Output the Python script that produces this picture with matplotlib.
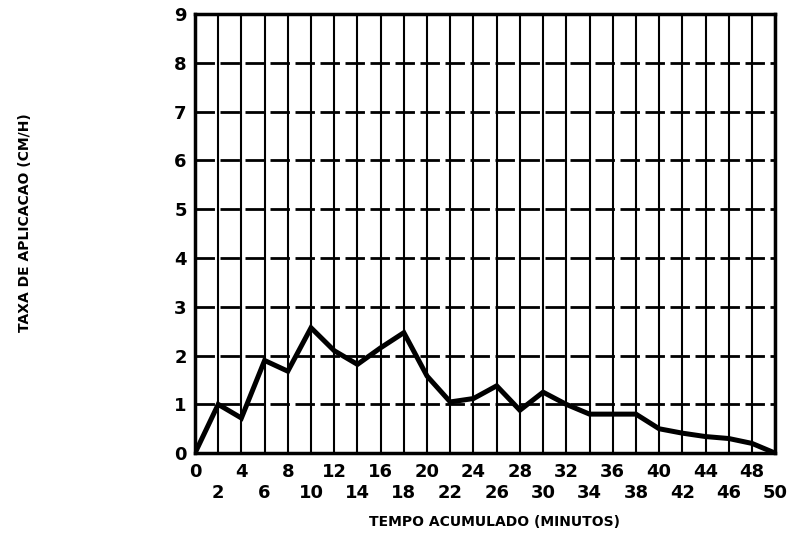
import numpy as np
import matplotlib
matplotlib.use("Agg")
import matplotlib.pyplot as plt
from matplotlib.ticker import MultipleLocator, FixedLocator

# dados
tempo = [0, 2, 4, 6, 8, 10, 12, 14, 16, 18, 20, 22, 24, 26, 28, 30, 32, 34, 36, 38, 40, 42, 44, 46, 48, 50]
taxa = [0.0, 1.0, 0.72, 1.9, 1.68, 2.57, 2.1, 1.82, 2.16, 2.47, 1.58, 1.05, 1.12, 1.38, 0.88, 1.25, 1.0, 0.8, 0.8, 0.8, 0.5, 0.41, 0.34, 0.3, 0.2, 0.0]

ticks_cima = [0, 4, 8, 12, 16, 20, 24, 28, 32, 36, 40, 44, 48]
ticks_baixo = [2, 6, 10, 14, 18, 22, 26, 30, 34, 38, 42, 46, 50]

fig = plt.figure(figsize=(7.91, 5.44), dpi=100)
ax = fig.add_axes([0.2465, 0.167, 0.7335, 0.807])

ax.plot(tempo, taxa, color='black', linewidth=3.6, solid_joinstyle='miter')

ax.set_xlim(0, 50)
ax.set_ylim(0, 9)

ax.xaxis.set_major_locator(FixedLocator(ticks_cima))
ax.xaxis.set_minor_locator(FixedLocator(ticks_baixo))
ax.set_xticklabels([str(t) for t in ticks_cima], minor=False)
ax.set_xticklabels([str(t) for t in ticks_baixo], minor=True)
ax.yaxis.set_major_locator(MultipleLocator(1))

ax.tick_params(axis='x', which='major', length=0, pad=7, labelsize=13)
ax.tick_params(axis='x', which='minor', length=0, pad=22, labelsize=13)
ax.tick_params(axis='y', length=0, pad=6, labelsize=13)
for lab in ax.get_xticklabels(minor=False) + ax.get_xticklabels(minor=True) + ax.get_yticklabels():
    lab.set_fontweight('bold')

ax.grid(True, axis='x', which='both', color='black', linewidth=1.5, linestyle='-')
ax.grid(True, axis='y', which='major', color='black', linewidth=2.0, linestyle=(0, (7, 2)))

for s in ax.spines.values():
    s.set_linewidth(2.5)

fig.text(0.625, 0.04, 'TEMPO ACUMULADO (MINUTOS)', ha='center', va='center',
         fontsize=10, fontweight='bold')
fig.text(0.032, 0.59, 'TAXA DE APLICACAO (CM/H)', ha='center', va='center',
         rotation=90, fontsize=10, fontweight='bold')

fig.savefig('out.png', dpi=100)
